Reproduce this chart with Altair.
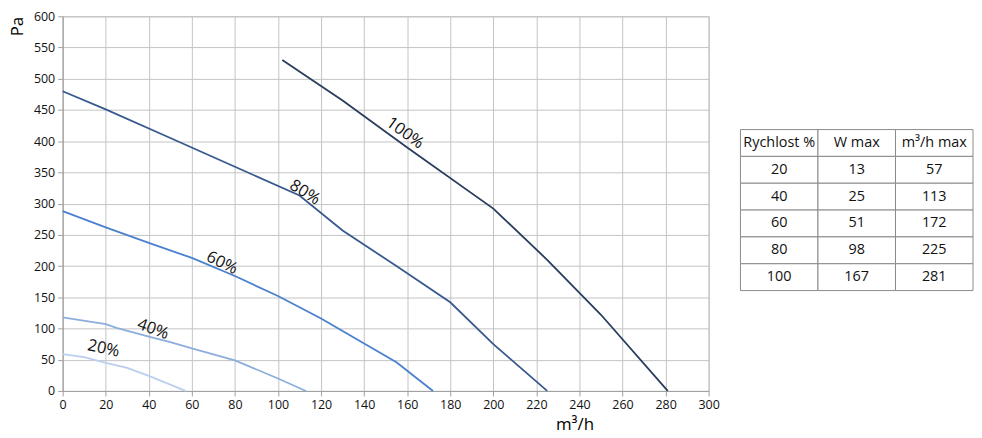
import altair as alt
import pandas as pd

# ---- curve data (m3/h, Pa) ----
x20 = [0, 10, 20, 30, 40, 50, 57]
y20 = [59, 54, 45, 37, 24, 10, 0]
x40 = [0, 20, 25, 40, 50, 60, 80, 100, 113]
y40 = [118, 107, 101, 87, 78, 68, 49, 20, 0]
x60 = [0, 20, 40, 60, 80, 100, 120, 140, 155, 172]
y60 = [288, 262, 237, 213, 184, 152, 116, 76, 46, 0]
x80 = [0, 20, 50, 80, 110, 130, 155, 180, 200, 225]
y80 = [480, 451, 405, 359, 313, 257, 200, 142, 75, 0]
x100 = [102, 130, 160, 200, 225, 250, 281]
y100 = [530, 465, 390, 292, 210, 122, 0]

series = ["20%", "40%", "60%", "80%", "100%"]
colors = ["#bacfee", "#8daedc", "#4a80cf", "#37598f", "#283d5e"]

# curve labels
lab_text = ["20%", "40%", "60%", "80%", "100%"]
lab_x = [19, 42, 74, 112.5, 159]
lab_y = [68, 99, 205, 318, 413]
lab_angle = [12, 20, 26, 32, 36]

# table
tbl_cols = ["Rychlost %", "W max", "m³/h max"]
tbl_speed = ["20", "40", "60", "80", "100"]
tbl_w = ["13", "25", "51", "98", "167"]
tbl_q = ["57", "113", "172", "225", "281"]

x_ticks = list(range(0, 301, 20))
y_ticks = list(range(0, 601, 50))

rows = []
for name, xs, ys in zip(series, [x20, x40, x60, x80, x100], [y20, y40, y60, y80, y100]):
    for i, (a, b) in enumerate(zip(xs, ys)):
        rows.append({"s": name, "q": a, "p": b, "i": i})
df = pd.DataFrame(rows)
ldf = pd.DataFrame({"t": lab_text, "q": lab_x, "p": lab_y, "a": lab_angle})

FONT = "Open Sans"

xenc = alt.X("q:Q", scale=alt.Scale(domain=[0, 300], nice=False, zero=False),
             axis=alt.Axis(values=x_ticks, title="m³/h", titleX=515, titlePadding=5,
                           titleFontSize=17, titleFontWeight="normal", titleFont=FONT,
                           labelFontSize=12.5, labelFont=FONT, gridColor="#c4c4c4",
                           domainColor="#a0a0a0", tickColor="#a0a0a0", tickSize=5,
                           labelColor="#111", labelPadding=3, labelFlush=False))
yenc = alt.Y("p:Q", scale=alt.Scale(domain=[0, 600], nice=False),
             axis=alt.Axis(values=y_ticks, title="Pa", titleAnchor="end", titlePadding=7,
                           titleFontSize=17, titleFontWeight="normal", titleFont=FONT,
                           labelFontSize=12.5, labelFont=FONT, gridColor="#c4c4c4",
                           domainColor="#a0a0a0", tickColor="#a0a0a0", tickSize=5,
                           labelColor="#111", labelPadding=3, labelOverlap=False))

lines = alt.Chart(df).mark_line(strokeWidth=1.8).encode(
    x=xenc, y=yenc,
    color=alt.Color("s:N", scale=alt.Scale(domain=series, range=colors), legend=None),
    order="i:Q",
)
labels = alt.Chart(ldf).mark_text(fontSize=16.5, font=FONT, color="#111").encode(
    x=xenc, y=yenc, text="t:N", angle=alt.Angle("a:Q", scale=None)
)
main = (lines + labels).properties(
    width=650, height=377,
    view=alt.ViewBackground(stroke="#b8b8b8", strokeWidth=1),
)

trows = ["h", "r1", "r2", "r3", "r4", "r5"]
tdata = []
for c, t in zip(tbl_cols, tbl_cols):
    tdata.append({"r": "h", "c": c, "t": t})
for k in range(5):
    for c, t in zip(tbl_cols, [tbl_speed[k], tbl_w[k], tbl_q[k]]):
        tdata.append({"r": trows[k + 1], "c": c, "t": t})
tdf = pd.DataFrame(tdata)

tbase = alt.Chart(tdf).encode(
    x=alt.X("c:N", sort=tbl_cols,
            scale=alt.Scale(domain=tbl_cols, paddingInner=0, paddingOuter=0), axis=None),
    y=alt.Y("r:N", sort=trows,
            scale=alt.Scale(domain=trows, range=[114, 276], paddingInner=0, paddingOuter=0),
            axis=None),
)
trect = tbase.mark_rect(fill="white", stroke="#8a8a8a", strokeWidth=1)
ttext = tbase.mark_text(fontSize=14.5, font=FONT, color="#111").encode(text="t:N")
table = (trect + ttext).properties(width=234, height=377,
                                    view=alt.ViewBackground(stroke=None))

chart = alt.hconcat(main, table, spacing=19).properties(
    padding={"left": 0, "top": 0, "right": 0, "bottom": 0}
).configure_view(stroke=None)

chart.save("out.html", embed_options={"renderer": "svg", "actions": False})
